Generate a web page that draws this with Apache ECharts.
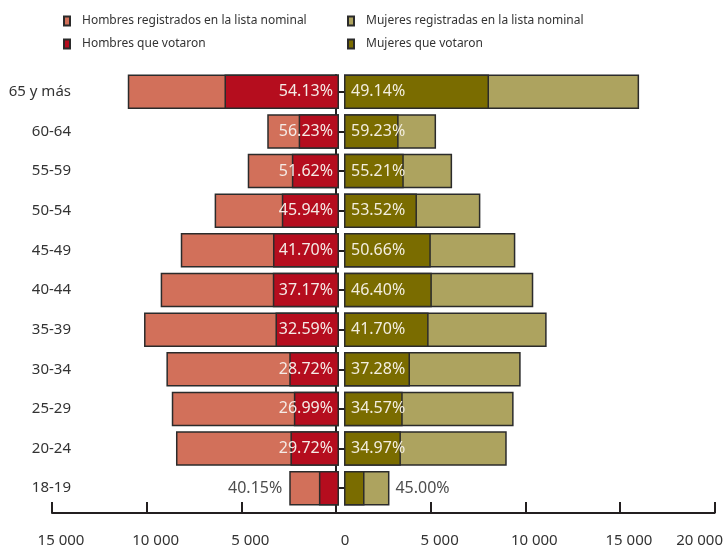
<!DOCTYPE html>
<html><head><meta charset="utf-8">
<script src="https://cdn.jsdelivr.net/npm/echarts@6/dist/echarts.min.js"></script>
<style>html,body{margin:0;padding:0;background:#fff}#c{width:726px;height:548px}</style>
</head><body><div id="c"></div>
<script>
const categories = ['18-19','20-24','25-29','30-34','35-39','40-44','45-49','50-54','55-59','60-64','65 y más'];
const menRegistered = [2600, 8520, 8740, 9020, 10190, 9320, 8270, 6500, 4770, 3750, 11040];
const menVoted = [1050, 2540, 2360, 2600, 3320, 3460, 3450, 2990, 2465, 2108, 5985];
const menPct = [40.15, 29.72, 26.99, 28.72, 32.59, 37.17, 41.70, 45.94, 51.62, 56.23, 54.13];
const womenRegistered = [2380, 8520, 8880, 9250, 10610, 9910, 8970, 7140, 5660, 4820, 15450];
const womenVoted = [1075, 2980, 3075, 3455, 4430, 4600, 4545, 3820, 3130, 2860, 7592];
const womenPct = [45.00, 34.97, 34.57, 37.28, 41.70, 46.40, 50.66, 53.52, 55.21, 59.23, 49.14];
const tickLabels = ['15 000','10 000','5 000','0','5 000','10 000','15 000','20 000'];

const names = {
  mr: 'Hombres registrados en la lista nominal',
  mv: 'Hombres que votaron',
  wr: 'Mujeres registradas en la lista nominal',
  wv: 'Mujeres que votaron'
};
const colors = { mr: '#d2705a', mv: '#b50d1e', wr: '#ada35f', wv: '#7a6c00' };
const border = '#2b2b2b';
const font = 'Noto Sans';
const pctText = p => p.toFixed(2) + '%';

const chart = echarts.init(document.getElementById('c'), null, { renderer: 'canvas' });

const legendCommon = {
  orient: 'vertical', top: 15, padding: 0, itemWidth: 6, itemHeight: 9, itemGap: 11,
  icon: 'rect', selectedMode: false,
  textStyle: { fontFamily: font, fontSize: 12, color: '#333', padding: [0, 0, 0, 7] }
};

const option = {
  animation: false,
  textStyle: { fontFamily: font },
  legend: [
    Object.assign({ left: 63, data: [names.mr, names.mv] }, legendCommon),
    Object.assign({ left: 347, data: [names.wr, names.wv] }, legendCommon)
  ],
  grid: [
    { left: 52, right: 6, top: 75, bottom: 35 },
    { left: 52, width: 287, top: 72, height: 436 },
    { left: 344, width: 382, top: 72, height: 436 }
  ],
  xAxis: [
    {
      gridIndex: 0, type: 'value', min: -15000, max: 20000, interval: 5000,
      axisLine: { show: true, onZero: false, lineStyle: { color: '#231f20', width: 2 } },
      axisTick: { show: true, inside: true, length: 11, lineStyle: { color: '#231f20', width: 2 } },
      splitLine: { show: false },
      axisLabel: {
        margin: 20, fontSize: 15, color: '#333', fontFamily: font,
        formatter: v => {
          const t = tickLabels[Math.round((v + 15000) / 5000)];
          return v === 20000 ? '{r|' + t + '}' : '{n|' + t + '}';
        },
        rich: {
          n: { fontSize: 15, color: '#333', fontFamily: font, padding: [0, 0, 0, 18] },
          r: { fontSize: 15, color: '#333', fontFamily: font, padding: [0, 30, 0, 0] }
        }
      }
    },
    { gridIndex: 1, type: 'value', min: 0, max: 15000, inverse: true, show: false },
    { gridIndex: 2, type: 'value', min: 0, max: 20000, show: false }
  ],
  yAxis: [
    {
      gridIndex: 0, type: 'value', min: 0, max: 1,
      axisLine: { show: true, onZero: true, lineStyle: { color: '#231f20', width: 2 } },
      axisTick: { show: false }, axisLabel: { show: false }, splitLine: { show: false }
    },
    {
      gridIndex: 1, type: 'category', data: categories, position: 'left',
      axisLine: { show: false }, axisTick: { show: false },
      axisLabel: { margin: -19, fontSize: 15, color: '#333', fontFamily: font }
    },
    {
      gridIndex: 2, type: 'category', data: categories, position: 'left',
      axisLine: { show: false },
      axisTick: { show: true, alignWithLabel: true, length: 5, lineStyle: { color: '#231f20', width: 2 } },
      axisLabel: { show: false }
    }
  ],
  series: [
    {
      name: names.mr, type: 'bar', xAxisIndex: 1, yAxisIndex: 1,
      barWidth: '87%', barGap: '-100%',
      itemStyle: { color: colors.mr, borderColor: border, borderWidth: 1.5 },
      data: menRegistered.map((v, i) => i === 0 ? {
        value: v,
        label: { show: true, position: 'left', distance: 7, formatter: pctText(menPct[i]),
                 color: '#4d4d4d', fontSize: 16, fontFamily: font }
      } : v)
    },
    {
      name: names.mv, type: 'bar', xAxisIndex: 1, yAxisIndex: 1,
      barWidth: '87%', barGap: '-100%',
      itemStyle: { color: colors.mv, borderColor: border, borderWidth: 1.5 },
      label: {
        show: true, position: 'insideRight', distance: 6, color: '#f5ebe6', fontSize: 16, fontFamily: font,
        formatter: p => p.dataIndex === 0 ? '' : pctText(menPct[p.dataIndex])
      },
      data: menVoted
    },
    {
      name: names.wr, type: 'bar', xAxisIndex: 2, yAxisIndex: 2,
      barWidth: '87%', barGap: '-100%',
      itemStyle: { color: colors.wr, borderColor: border, borderWidth: 1.5 },
      data: womenRegistered.map((v, i) => i === 0 ? {
        value: v,
        label: { show: true, position: 'right', distance: 6, formatter: pctText(womenPct[i]),
                 color: '#4d4d4d', fontSize: 16, fontFamily: font }
      } : v)
    },
    {
      name: names.wv, type: 'bar', xAxisIndex: 2, yAxisIndex: 2,
      barWidth: '87%', barGap: '-100%',
      itemStyle: { color: colors.wv, borderColor: border, borderWidth: 1.5 },
      label: {
        show: true, position: 'insideLeft', distance: 7, color: '#f3eedf', fontSize: 16, fontFamily: font,
        formatter: p => p.dataIndex === 0 ? '' : pctText(womenPct[p.dataIndex])
      },
      data: womenVoted
    }
  ]
};
chart.setOption(option);
</script>
</body></html>
